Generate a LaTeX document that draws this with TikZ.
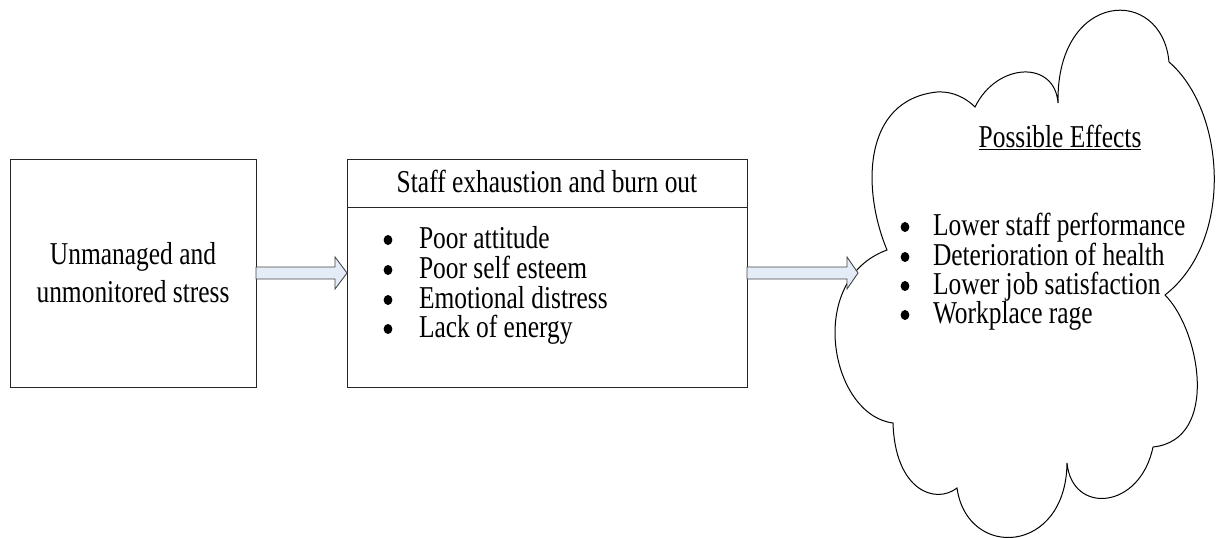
\documentclass[tikz,border=0pt]{standalone}
\usepackage{fontspec}
\setmainfont[FakeStretch=0.8]{Liberation Serif}
\usetikzlibrary{calc}
\definecolor{arrowfill}{RGB}{228,236,247}
\definecolor{arrowline}{RGB}{70,70,70}
\newcommand\diafs{\fontsize{31.8}{36}\selectfont}
\begin{document}
\begin{tikzpicture}[x=1pt,y=-1pt,
  box/.style={draw=black!85,line width=1pt,inner sep=0pt,outer sep=0pt},
  txt/.style={font=\diafs,inner sep=0pt,outer sep=0pt},
  bul/.style={fill=black},
  fatarrow/.style={draw=arrowline,fill=arrowfill,line width=0.9pt,line join=miter},
  cloudline/.style={draw=black,line width=1pt}]
\useasboundingbox (0,0) rectangle (1218,538);
% left box
\node[box,minimum width=246pt,minimum height=228pt] (L) at (133,273) {};
\node[txt,anchor=base] (l1) at (133,264) {Unmanaged and};
\node[txt,anchor=base] (l2) at (133,302) {unmonitored stress};
% middle box
\node[box,minimum width=400pt,minimum height=228pt] (M) at (547,273) {};
\coordinate (dl) at (347,207);
\coordinate (dr) at (747,207);
\draw[black!85,line width=1pt] (dl) -- (dr);
\node[txt,anchor=base] (mh) at (547,192) {Staff exhaustion and burn out};
\node[txt,anchor=base west] (m1) at (419,248) {Poor attitude};
\node[txt,anchor=base west] (m2) at (419,278) {Poor self esteem};
\node[txt,anchor=base west] (m3) at (419,308) {Emotional distress};
\node[txt,anchor=base west] (m4) at (419,337) {Lack of energy};
\foreach \yy in {240,270,300,329} \fill[bul] (388,\yy) ellipse [x radius=4.4pt, y radius=5pt];
% cloud
\draw[cloudline] (887,250) .. controls (862,190) and (862,100) .. (937,92)
  .. controls (955,91) and (968,100) .. (975,107)
  .. controls (997,62) and (1055,60) .. (1058,103)
  .. controls (1056,-10) and (1162,-15) .. (1169,62)
  .. controls (1225,110) and (1235,240) .. (1165,295)
  .. controls (1200,330) and (1220,440) .. (1153,447)
  .. controls (1140,510) and (1072,515) .. (1067,463)
  .. controls (1066,555) and (967,560) .. (957,488)
  .. controls (935,505) and (895,490) .. (893,423)
  .. controls (830,415) and (805,280) .. (887,250) -- cycle;
\coordinate (ctip) at (858,273);
\node[txt,anchor=base] (ch) at (1060,147) {\underline{Possible Effects}};
\node[txt,anchor=base west] (c1) at (933,235) {Lower staff performance};
\node[txt,anchor=base west] (c2) at (933,265) {Deterioration of health};
\node[txt,anchor=base west] (c3) at (933,294) {Lower job satisfaction};
\node[txt,anchor=base west] (c4) at (933,323) {Workplace rage};
\foreach \yy in {227,257,286,315} \fill[bul] (905,\yy) ellipse [x radius=4.4pt, y radius=5pt];
% arrows
\draw[fatarrow] ($(L.east)+(0,-6)$) -- ($(M.west)+(-12,-6)$) -- ($(M.west)+(-12,-16)$) -- (M.west)
  -- ($(M.west)+(-12,16)$) -- ($(M.west)+(-12,6)$) -- ($(L.east)+(0,6)$) -- cycle;
\draw[fatarrow] ($(M.east)+(0,-6)$) -- ($(ctip)+(-11,-6)$) -- ($(ctip)+(-11,-16)$) -- (ctip)
  -- ($(ctip)+(-11,16)$) -- ($(ctip)+(-11,6)$) -- ($(M.east)+(0,6)$) -- cycle;
\end{tikzpicture}
\end{document}
